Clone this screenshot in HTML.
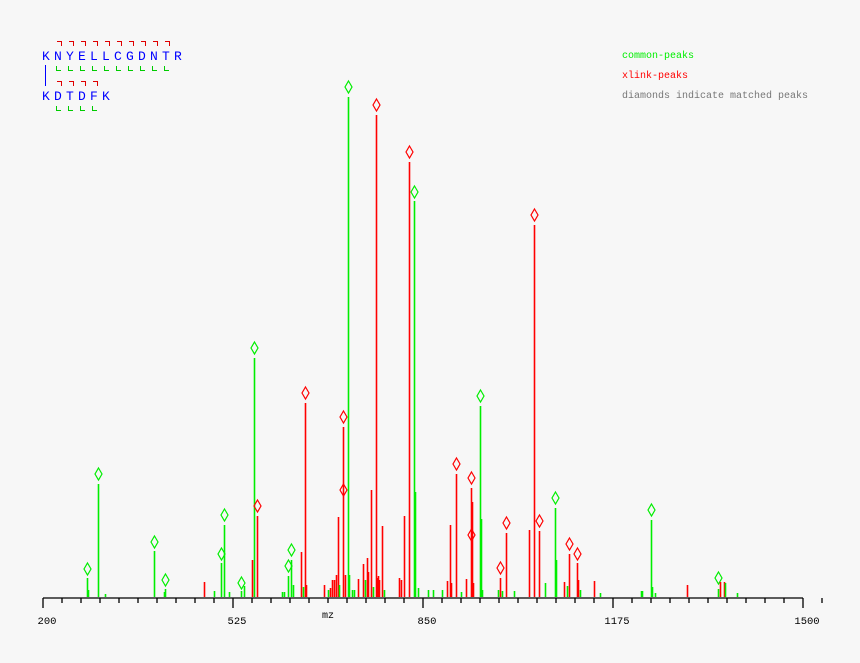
<!DOCTYPE html>
<html><head><meta charset="utf-8"><style>
html,body{margin:0;padding:0;background:#f7f7f7;}
svg{display:block;font-family:"Liberation Mono",monospace;}
</style></head><body>
<svg id="s" width="860" height="663" viewBox="0 0 860 663" xmlns="http://www.w3.org/2000/svg">
<rect width="860" height="663" fill="#f7f7f7"/>
<g font-size="13" fill="#0000ff">
<text x="42" y="60">K</text><text x="54" y="60">N</text><text x="66" y="60">Y</text><text x="78" y="60">E</text><text x="90" y="60">L</text><text x="102" y="60">L</text><text x="114" y="60">C</text><text x="126" y="60">G</text><text x="138" y="60">D</text><text x="150" y="60">N</text><text x="162" y="60">T</text><text x="174" y="60">R</text>
<text x="42" y="100">K</text><text x="54" y="100">D</text><text x="66" y="100">T</text><text x="78" y="100">D</text><text x="90" y="100">F</text><text x="102" y="100">K</text>
</g>
<line x1="45.5" y1="65" x2="45.5" y2="86" stroke="#0000ff" stroke-width="1"/>
<g id="br" fill="none" stroke-width="1"></g>
<g font-size="10">
<text x="622" y="58" fill="#00ee00">common-peaks</text>
<text x="622" y="78" fill="#ff0000">xlink-peaks</text>
<text x="622" y="98" fill="#777777">diamonds indicate matched peaks</text>
</g>
<g id="pk"></g>
<g id="ax" stroke="#000" stroke-width="1.3"></g>
<g font-size="10.5" fill="#000">
<text x="47" y="624" text-anchor="middle">200</text>
<text x="237" y="624" text-anchor="middle">525</text>
<text x="427" y="624" text-anchor="middle">850</text>
<text x="617" y="624" text-anchor="middle">1175</text>
<text x="807" y="624" text-anchor="middle">1500</text>
<text x="328" y="618" text-anchor="middle" font-size="10">mz</text>
</g>
</svg>
<script>
var NS="http://www.w3.org/2000/svg";
function el(p,t,a){var e=document.createElementNS(NS,t);for(var k in a)e.setAttribute(k,a[k]);p.appendChild(e);return e;}
var br=document.getElementById("br");
function brk(x,y,up,col){ if(up) el(br,"path",{d:"M"+x+" "+(y+.5)+"H"+(x+4.5)+"V"+(y+5),stroke:col}); else el(br,"path",{d:"M"+(x+.5)+" "+y+"V"+(y+4.5)+"H"+(x+5),stroke:col}); }
for(var i=0;i<10;i++){brk(57+12*i,41,1,"#e00000");brk(56+12*i,66,0,"#00cc00");}
for(var i=0;i<4;i++){brk(57+12*i,81,1,"#e00000");brk(56+12*i,106,0,"#00cc00");}
var G="#00ee00",R="#ff0000",B=597;
var pk=document.getElementById("pk");
var P=[
[87,578,G,[569]],[88,590,G],[98,484,G,[474]],[105,594,G],[154,551,G,[542]],[164,592,G],[165,589,G,[580]],[204,582,R],[214,591,G],[221,563,G,[554]],[224,525,G,[515]],[229,592,G],[241,591,G,[583]],[244,586,G],[252,560,R],[254,358,G,[348]],[257,516,R,[506]],
[282,592,G],[284,592,G],[288,576,G,[566]],[291,560,G,[550]],[293,585,G],[301,552,R],[303,587,G],[305,403,R,[393]],[306,585,R],[324,585,R],[328,590,G],[330,588,R],[332,580,R],[334,580,R],[336,575,R],[338,517,R],[339,585,G],[343,427,R,[417,490]],[345,575,R],[348,97,G,[87]],[349,575,G],[352,590,G],[354,590,G],[358,579,R],[363,564,R],[365,580,G],[367,558,R],[368,572,R],[371,490,R],[373,587,G],[376,115,R,[105]],[377,578,R],[378,576,R],[379,580,R],[382,526,R],[384,590,G],[399,578,R],[401,580,R],[404,516,R],[409,162,R,[152]],[414,201,G,[192]],[415,492,G],[418,588,G],[428,590,G],[433,590,G],[442,590,G],[447,581,R],[450,525,R],[451,583,R],[456,474,R,[464]],[461,592,G],[466,579,R],[471,488,R,[478,535]],[472,502,R],[473,583,R],[480,406,G,[396]],[481,519,G],[482,590,G],[498,590,G],[500,578,R,[568]],[502,591,G],[506,533,R,[523]],[514,591,G],[529,530,R],[534,225,R,[215]],[539,531,R,[521]],[545,583,G],[555,508,G,[498]],[556,560,G],[564,582,R],[567,586,G],[569,554,R,[544]],[577,563,R,[554]],[578,580,R],[580,590,G],[594,581,R],[600,593,G],[641,591,G],[642,591,G],[651,520,G,[510]],[652,587,G],[655,593,G],[687,585,R],[718,589,G,[578]],[720,582,R],[724,582,R],[725,583,G],[737,593,G]
];
P.forEach(function(p){
 el(pk,"line",{x1:p[0]+.5,y1:p[1],x2:p[0]+.5,y2:B,stroke:p[2],"stroke-width":1.6});
 if(p[3])p[3].forEach(function(d){el(pk,"path",{d:"M"+(p[0]+.5)+" "+(d-6)+"L"+(p[0]+4)+" "+d+"L"+(p[0]+.5)+" "+(d+6)+"L"+(p[0]-3)+" "+d+"Z",fill:"none",stroke:p[2],"stroke-width":1.2});});
});
var ax=document.getElementById("ax");
el(ax,"line",{x1:43,y1:598,x2:803,y2:598});
for(var x=43;x<=803;x+=19){var mj=((x-43)%190)==0;el(ax,"line",{x1:x,y1:598,x2:x,y2:mj?608:603});}
el(ax,"line",{x1:822,y1:598,x2:822,y2:603});
</script>
</body></html>
